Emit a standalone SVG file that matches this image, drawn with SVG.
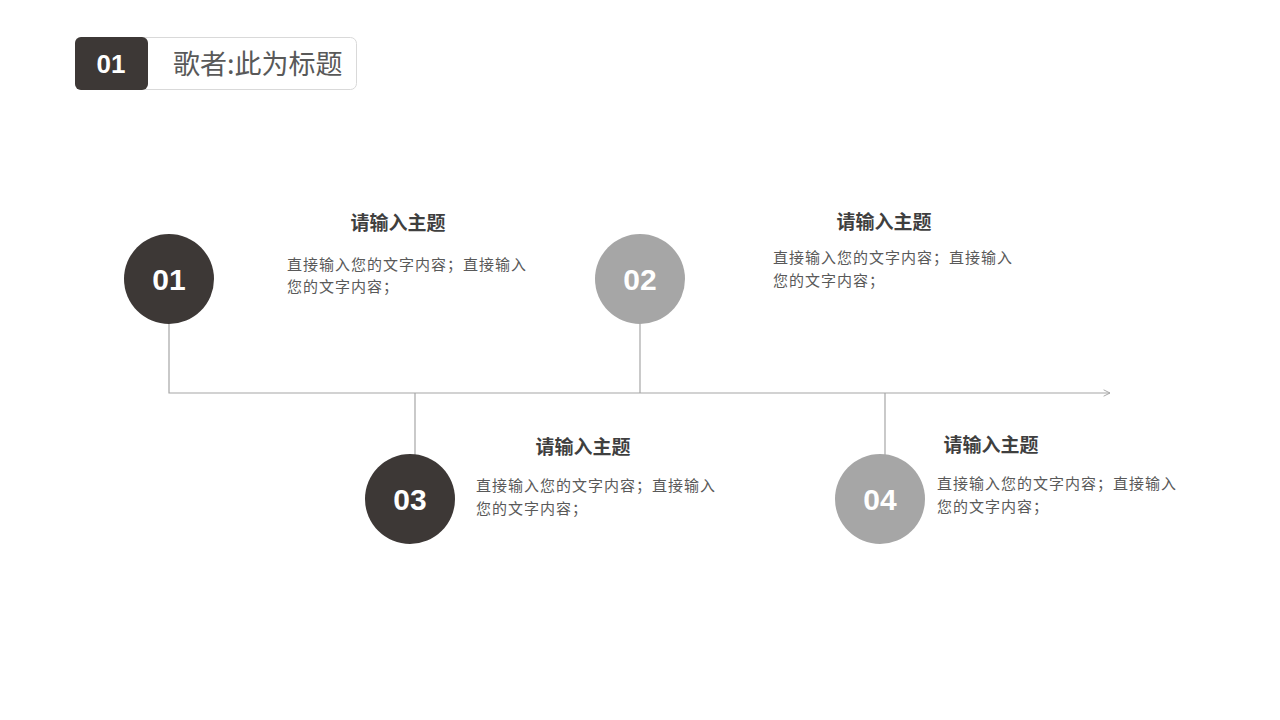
<svg xmlns="http://www.w3.org/2000/svg" width="1280" height="720" viewBox="0 0 1280 720">
<defs>
<style>
.num{font-family:"Liberation Sans",Arial,sans-serif;font-weight:bold;fill:#fff;text-anchor:middle}
.ttl{font-family:"Noto Sans CJK SC",sans-serif;font-weight:bold;font-size:19px;fill:#3f3f3f;text-anchor:middle}
.body{font-family:"Noto Sans CJK SC",sans-serif;font-size:15px;letter-spacing:1px;fill:#595959}
.dark{fill:#3d3836}
.gray{fill:#a6a6a6}
.conn{stroke:#a6a6a6;stroke-width:1.2;fill:none}
</style>
<marker id="arr" viewBox="0 0 10 10" refX="9" refY="5" markerWidth="8" markerHeight="8" markerUnits="userSpaceOnUse" orient="auto">
<path d="M1,1 L9,5 L1,9" fill="none" stroke="#a6a6a6" stroke-width="1.2"/>
</marker>
</defs>
<rect width="1280" height="720" fill="#fff"/>
<g id="header">
<rect x="75.5" y="37.5" width="281" height="52" rx="6" fill="#fff" stroke="#d9d9d9" stroke-width="1"/>
<rect x="75" y="37" width="73" height="53" rx="6" class="dark"/>
<text x="111" y="73" class="num" font-size="26">01</text>
<text x="173" y="74" font-family="Noto Sans CJK SC,sans-serif" font-size="27" fill="#595959">歌者:此为标题</text>
</g>
<g id="connectors">
<polyline class="conn" points="169,324 169,393 1110,393" marker-end="url(#arr)"/>
<line class="conn" x1="640" y1="324" x2="640" y2="393"/>
<line class="conn" x1="415" y1="393" x2="415" y2="455"/>
<line class="conn" x1="885" y1="393" x2="885" y2="455"/>
</g>
<g id="node1">
<circle cx="169" cy="279" r="45" class="dark"/>
<text x="169" y="290" class="num" font-size="30">01</text>
<text x="398" y="230" class="ttl">请输入主题</text>
<text x="287" y="270" class="body">直接输入您的文字内容；直接输入</text>
<text x="287" y="292" class="body">您的文字内容；</text>
</g>
<g id="node2">
<circle cx="640" cy="279" r="45" class="gray"/>
<text x="640" y="290" class="num" font-size="30">02</text>
<text x="884" y="229" class="ttl">请输入主题</text>
<text x="773" y="263" class="body">直接输入您的文字内容；直接输入</text>
<text x="773" y="286" class="body">您的文字内容；</text>
</g>
<g id="node3">
<circle cx="410" cy="499" r="45" class="dark"/>
<text x="410" y="510" class="num" font-size="30">03</text>
<text x="583" y="454" class="ttl">请输入主题</text>
<text x="476" y="491" class="body">直接输入您的文字内容；直接输入</text>
<text x="476" y="514" class="body">您的文字内容；</text>
</g>
<g id="node4">
<circle cx="880" cy="499" r="45" class="gray"/>
<text x="880" y="510" class="num" font-size="30">04</text>
<text x="991" y="452" class="ttl">请输入主题</text>
<text x="937" y="489" class="body">直接输入您的文字内容；直接输入</text>
<text x="937" y="512" class="body">您的文字内容；</text>
</g>
</svg>
